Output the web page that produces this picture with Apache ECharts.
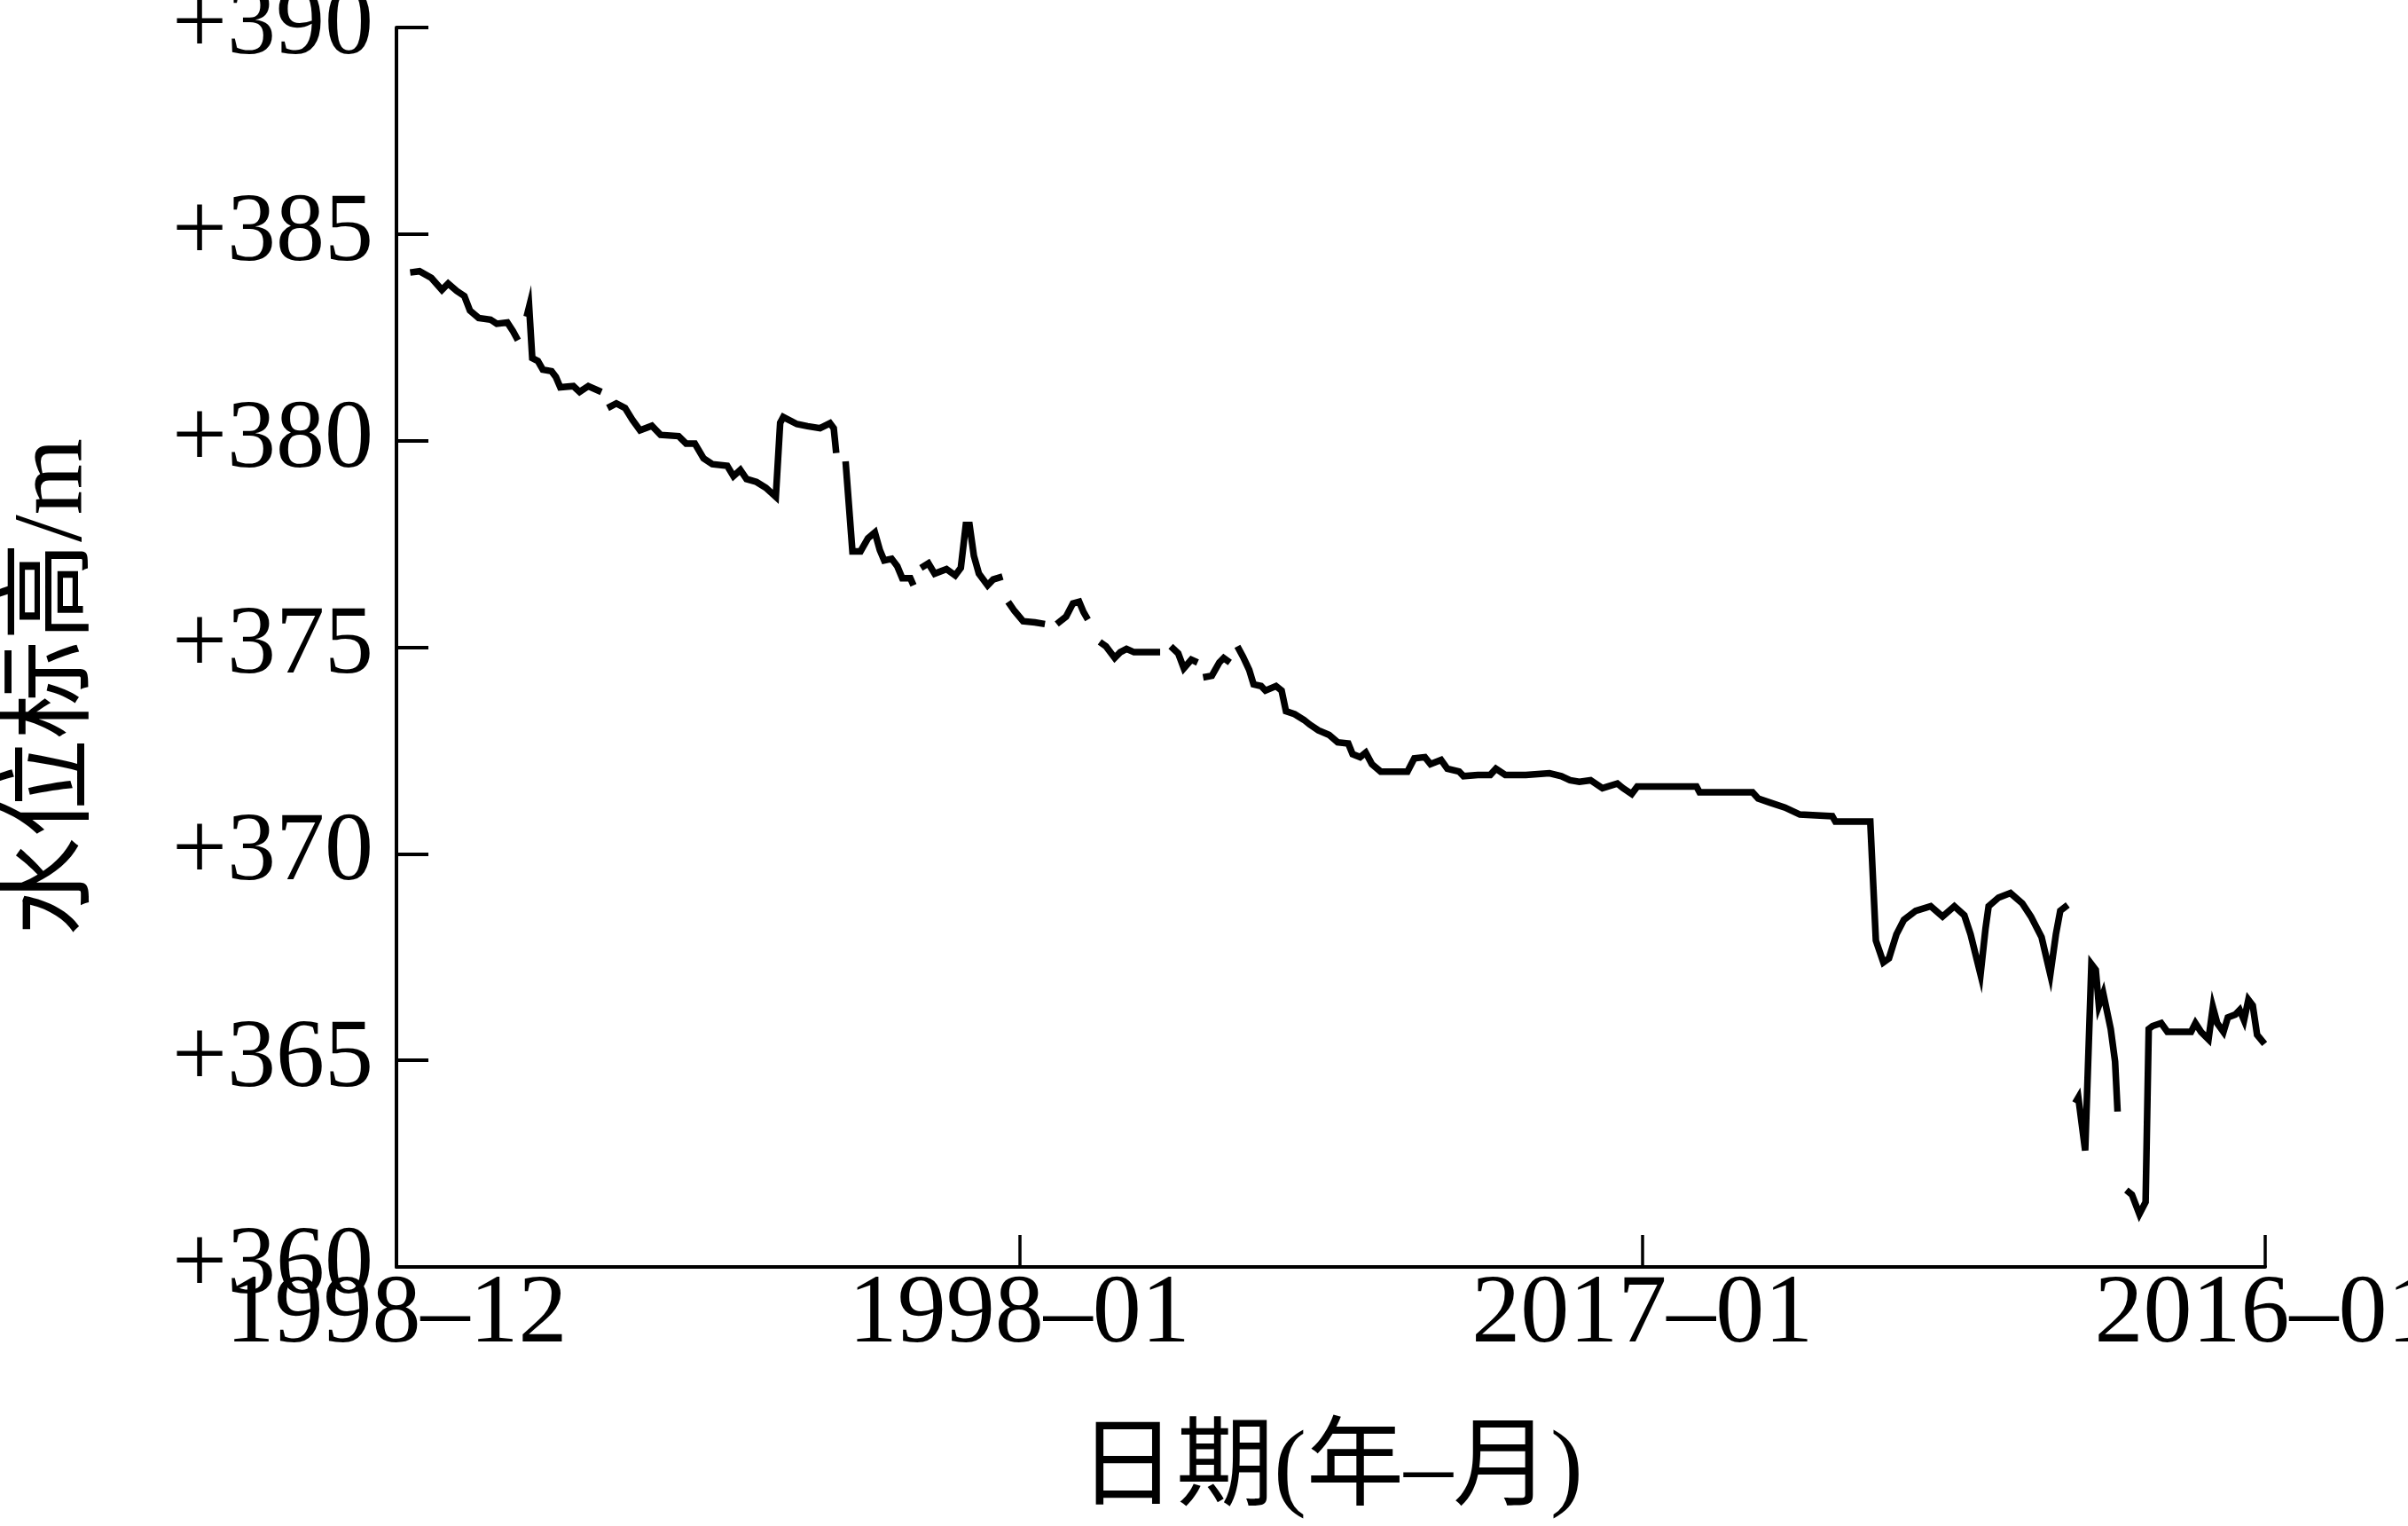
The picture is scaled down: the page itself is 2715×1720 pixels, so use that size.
<!DOCTYPE html>
<html>
<head>
<meta charset="utf-8">
<script src="https://cdn.jsdelivr.net/npm/echarts@6/dist/echarts.min.js"></script>
<style>
  html, body { margin: 0; padding: 0; background: #ffffff; }
  #chart { width: 2715px; height: 1720px; }
</style>
</head>
<body>
<div id="chart"></div>
<script>
// Tick labels along the date axis (as printed in the source figure)
const dateTickLabels = ['1998–12', '1998–01', '2017–01', '2016–01'];
const levelTicks = [360, 365, 370, 375, 380, 385, 390];

// Time position along the axis (0–300 spans the axis; ticks every 100) and water level (m); null = gap in record
const timePos = [
  2.2, 3.7, 5.6, 7.3, 8.3, 9.7, 10.9, 11.8, 13.2, 15.1, 16.1, 17.8, 18.7, 19.5, 20.2,
  20.9, 21.3, 21.8, 22.7, 23.5, 24.9, 25.6, 26.3, 28.4, 29.4, 30.8, 32.9, 33.4,
  33.9, 35.3, 36.7, 37.9, 39.1, 41.0, 42.4, 45.3, 46.5, 47.9, 49.3, 50.7, 53.1, 54.1,
  55.2, 56.2, 57.8, 59.3, 60.9, 61.6, 62.1, 64.3, 66.0, 68.0, 69.6, 70.2, 70.6, 71.2,
  72.1, 73.2, 74.5, 75.7, 76.8, 77.6, 78.3, 79.5, 80.4, 81.2, 82.5, 83.0, 83.6,
  84.2, 85.4, 86.4, 88.3, 89.7, 90.6, 91.4, 92.0, 92.7, 93.5, 94.9, 95.8, 97.3, 97.7,
  98.2, 99.2, 100.6, 102.5, 104.1, 105.0,
  106.0, 107.5, 108.6, 109.6, 110.3, 111.0, 112.0,
  112.9, 113.9, 115.3, 116.2, 117.2, 118.4, 122.6, 123.4,
  124.3, 125.5, 126.4, 127.6, 128.6, 129.0,
  129.5, 130.9, 132.1, 132.8, 133.8, 134.4,
  135.0, 135.9, 136.9, 137.6, 138.8, 139.5, 141.2, 142.1, 142.8, 144.2, 145.7, 146.6,
  148.0, 149.7, 151.1, 152.8, 153.5, 154.7, 155.6, 156.6, 158.0, 162.3, 163.4, 165.1,
  166.0, 167.7, 168.7, 170.6, 171.3, 173.6, 175.6, 176.5, 178.0, 181.3, 185.1, 187.0,
  188.4, 189.9, 191.7, 193.6, 196.0, 196.9, 198.3, 199.2, 208.7, 209.2, 217.7, 218.6,
  220.5, 222.9, 225.3, 230.5, 231.0, 236.6, 237.5, 238.7, 239.6, 240.8, 242.0, 243.9,
  246.3, 248.2, 250.1, 251.7, 252.7, 254.3, 255.1, 255.6, 257.2, 259.1, 261.0, 262.4,
  264.1, 265.5, 266.4, 267.1, 268.3, 268.9,
  269.5, 270.0, 271.1, 272.1, 272.8, 273.3, 274.0, 275.2, 275.9, 276.3, 277.0,
  277.7, 278.6, 279.8, 280.8, 281.3, 281.9, 283.3, 284.3, 288.1, 288.8, 289.7, 290.9,
  291.6, 292.3, 293.3, 294.0, 295.2, 295.9, 296.6, 297.3, 298.0, 298.7, 299.9
];
const waterLevel = [
  384.07, 384.10, 383.94, 383.65, 383.80, 383.62, 383.50, 383.15, 382.97, 382.93, 382.83, 382.86, 382.65, 382.43, null,
  383.00, 383.24, 382.00, 381.93, 381.72, 381.68, 381.54, 381.29, 381.32, 381.18, 381.32, 381.18, null,
  380.79, 380.90, 380.79, 380.50, 380.25, 380.36, 380.14, 380.11, 379.93, 379.93, 379.57, 379.43, 379.39, 379.14,
  379.29, 379.07, 379.00, 378.86, 378.64, 380.43, 380.57, 380.40, 380.35, 380.30, 380.42, 380.30, 379.70, null,
  379.50, 377.32, 377.32, 377.64, 377.78, 377.35, 377.10, 377.14, 376.96, 376.67, 376.67, 376.50, null,
  376.92, 377.03, 376.78, 376.89, 376.74, 376.92, 377.96, 377.96, 377.21, 376.78, 376.50, 376.64, 376.71, null,
  376.10, 375.88, 375.63, 375.60, 375.56, null,
  375.56, 375.74, 376.06, 376.10, 375.85, 375.67, null,
  375.13, 375.02, 374.74, 374.88, 374.96, 374.88, 374.88, null,
  375.02, 374.85, 374.49, 374.70, 374.63, null,
  374.27, 374.31, 374.63, 374.74, 374.63, null,
  375.02, 374.77, 374.45, 374.10, 374.06, 373.95, 374.06, 373.95, 373.45, 373.38, 373.24, 373.13,
  372.99, 372.88, 372.70, 372.67, 372.41, 372.34, 372.45, 372.17, 371.99, 371.99, 372.31, 372.34,
  372.17, 372.27, 372.06, 371.99, 371.88, 371.91, 371.91, 372.06, 371.91, 371.91, 371.95, 371.88,
  371.78, 371.74, 371.78, 371.59, 371.70, 371.59, 371.45, 371.63, 371.63, 371.49, 371.49, 371.34,
  371.24, 371.12, 370.95, 370.91, 370.78, 370.78, 367.90, 367.37, 367.47, 368.05, 368.40, 368.62,
  368.73, 368.48, 368.73, 368.51, 368.05, 367.08, 368.19, 368.73, 368.94, 369.05, 368.80, 368.48,
  367.98, 367.08, 368.05, 368.62, 368.76, null,
  363.97, 364.10, 362.82, 367.33, 367.19, 366.33, 366.62, 365.76, 364.97, 363.76, null,
  361.86, 361.75, 361.28, 361.57, 365.76, 365.83, 365.90, 365.69, 365.69, 365.90, 365.69, 365.51,
  366.29, 365.90, 365.69, 366.04, 366.11, 366.22, 365.97, 366.47, 366.33, 365.62, 365.40
];

const FONT = "'Liberation Serif', 'Times New Roman', 'Noto Sans CJK SC', serif";
const seriesData = timePos.map((t, i) => [t, waterLevel[i] === null ? '-' : waterLevel[i]]);

const chart = echarts.init(document.getElementById('chart'), null, { renderer: 'canvas' });
chart.setOption({
  backgroundColor: '#ffffff',
  animation: false,
  grid: { left: 447, right: 161, top: 31, bottom: 292, containLabel: false, outerBoundsMode: 'none' },
  xAxis: {
    type: 'value',
    min: 0,
    max: 300,
    interval: 100,
    name: '日期(年–月)',
    nameLocation: 'middle',
    nameGap: 176,
    nameTextStyle: { fontFamily: FONT, fontSize: 110, color: '#000' },
    axisLine: { show: true, lineStyle: { color: '#000', width: 4 } },
    axisTick: { show: true, inside: true, length: 36, lineStyle: { color: '#000', width: 3.5 } },
    axisLabel: {
      show: true, margin: 0, fontFamily: FONT, fontSize: 110, color: '#000',
      formatter: v => dateTickLabels[Math.round(v / 100)] || ''
    },
    splitLine: { show: false }
  },
  yAxis: {
    type: 'value',
    min: levelTicks[0],
    max: levelTicks[levelTicks.length - 1],
    interval: 5,
    name: '水位标高/m',
    nameLocation: 'middle',
    nameGap: 330,
    nameTextStyle: { fontFamily: FONT, fontSize: 111, color: '#000', padding: [0, 90, 0, 0] },
    axisLine: { show: true, lineStyle: { color: '#000', width: 4 } },
    axisTick: { show: true, inside: true, length: 36, lineStyle: { color: '#000', width: 4 } },
    axisLabel: {
      show: true, margin: 26, fontFamily: FONT, fontSize: 110, color: '#000',
      formatter: v => '+' + v
    },
    splitLine: { show: false }
  },
  series: [{
    type: 'line',
    data: seriesData,
    showSymbol: false,
    symbol: 'none',
    connectNulls: false,
    lineStyle: { color: '#000', width: 7.5, join: 'miter' },
    clip: true
  }]
});
</script>
</body>
</html>
